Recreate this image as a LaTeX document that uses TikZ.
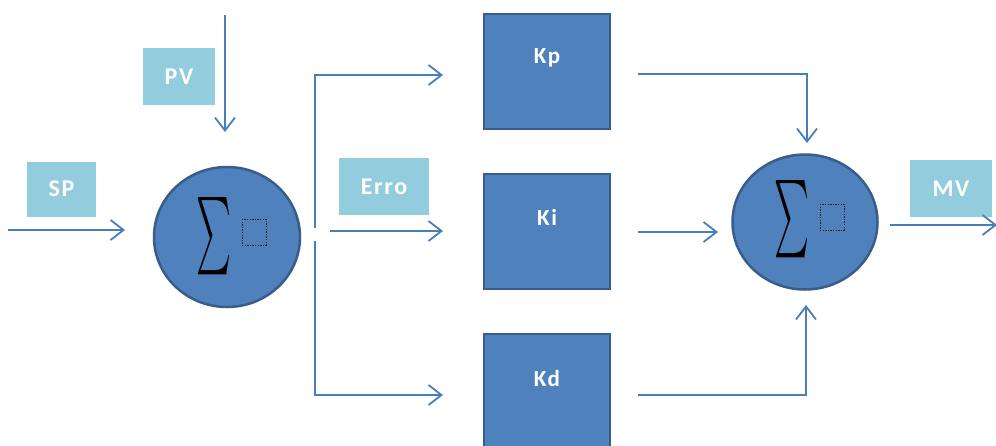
\documentclass[tikz,border=0pt]{standalone}
\usepackage{fontspec}
\setmainfont{Carlito}
\newfontfamily\labfont[LetterSpace=7]{Carlito}
\usetikzlibrary{arrows.meta,shapes.geometric}
\definecolor{boxfill}{HTML}{4F81BD}
\definecolor{boxline}{HTML}{385D8A}
\definecolor{tagfill}{HTML}{93CDDD}
\definecolor{wire}{HTML}{4A7EBB}
\begin{document}
\begin{tikzpicture}[x=1pt,y=-1pt,
  gainbox/.style={draw=boxline,line width=2.5pt,fill=boxfill,minimum width=126pt,minimum height=115pt,inner sep=0pt},
  gaintext/.style={inner sep=0pt,text=white,font=\labfont\bfseries\fontsize{23}{23}\selectfont},
  tagbox/.style={fill=tagfill,inner sep=0pt,text=white,font=\labfont\bfseries\fontsize{24}{24}\selectfont},
  sumnode/.style={ellipse,draw=boxline,line width=2.5pt,fill=boxfill,inner sep=0pt},
  wirearrow/.style={draw=wire,line width=1.8pt,line join=miter,-{Straight Barb[length=13pt,width=20pt]}}]
\clip (0,0) rectangle (996,445);
\fill[white] (0,0) rectangle (996,445);
% summing junctions
\node[sumnode,minimum width=146pt,minimum height=140pt] (c1) at (227,237) {};
\node[sumnode,minimum width=145pt,minimum height=135pt] (c2) at (805,222) {};
\foreach \c/\s in {c1/1,c2/3}{
  \node[inner sep=0pt,anchor=center] at ([xshift=-13pt,yshift=\s pt]\c.center) {\resizebox{35pt}{58pt}{$\sum$}};
  \draw[black!85,line width=0.7pt,dash pattern=on 1.4pt off 1.2pt] ([xshift=15pt,yshift=18pt]\c.center) rectangle ([xshift=39pt,yshift=-8pt]\c.center);
}
% gain blocks
\node[gainbox] (kp) at (547,71.5) {};
\node[gainbox] (ki) at (547,231.5) {};
\node[gainbox] (kd) at (547,391.5) {};
\node[gaintext] (kpt) at ([yshift=14pt]kp.center) {Kp};
\node[gaintext] (kit) at ([yshift=14pt]ki.center) {Ki};
\node[gaintext] (kdt) at ([yshift=13pt]kd.center) {Kd};
% tags
\node[tagbox,minimum width=69pt,minimum height=55pt] (sp) at (61.5,189) {SP};
\node[tagbox,minimum width=72pt,minimum height=57pt] (pv) at (179,76.5) {PV};
\node[tagbox,minimum width=90pt,minimum height=57pt] (er) at (384,186.5) {Erro};
\node[tagbox,minimum width=82pt,minimum height=57pt] (mv) at (951,188.5) {MV};
% coordinates
\coordinate (spA) at (8,230);
\coordinate (spB) at (125,230);
\coordinate (pvA) at (225,15);
\coordinate (pvB) at (225,132);
\coordinate (brTop) at (315,75);
\coordinate (brGapA) at (315,228);
\coordinate (brGapB) at (315,241);
\coordinate (brBot) at (315,395);
\coordinate (kpIn) at (443,75);
\coordinate (erA) at (330,231);
\coordinate (kiIn) at (443,231);
\coordinate (kdIn) at (443,395);
\coordinate (kpOut) at (638,74);
\coordinate (kpCorner) at (807,74);
\coordinate (c2Top) at (807,143);
\coordinate (kiOut) at (638,232);
\coordinate (c2Left) at (718,232);
\coordinate (kdOut) at (638,395);
\coordinate (kdCorner) at (806,395);
\coordinate (c2Bot) at (806,305);
\coordinate (mvA) at (890,225);
\coordinate (mvB) at (997,225);
% connectors
\draw[wirearrow] (spA) -- (spB);
\draw[wirearrow] (pvA) -- (pvB);
\draw[wirearrow] (brGapA) -- (brTop) -- (kpIn);
\draw[wirearrow] (brGapB) -- (brBot) -- (kdIn);
\draw[wirearrow] (erA) -- (kiIn);
\draw[wirearrow] (kpOut) -- (kpCorner) -- (c2Top);
\draw[wirearrow] (kiOut) -- (c2Left);
\draw[wirearrow] (kdOut) -- (kdCorner) -- (c2Bot);
\draw[wirearrow] (mvA) -- (mvB);
\end{tikzpicture}
\end{document}
